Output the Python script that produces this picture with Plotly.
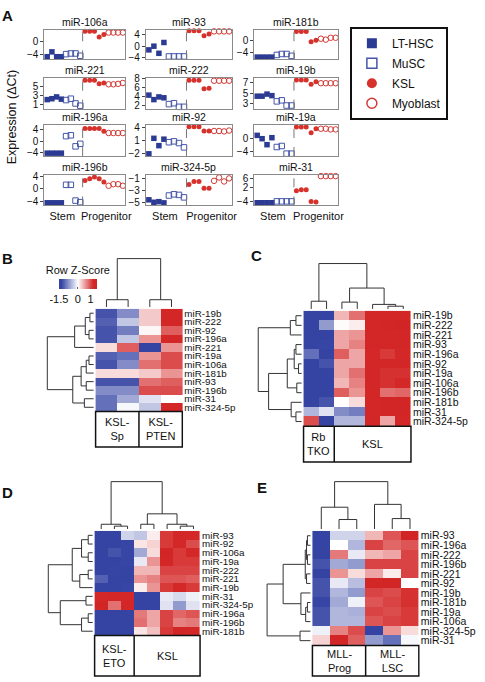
import plotly.graph_objects as go

W, H = 485, 682
FONT = "Liberation Sans, Arial, Helvetica, sans-serif"

# ---------------- Panel A data (expression, delta Ct) ----------------
mirs_A = ["miR-106a", "miR-93", "miR-181b",
          "miR-221", "miR-222", "miR-19b",
          "miR-196a", "miR-92", "miR-19a",
          "miR-196b", "miR-324-5p", "miR-31"]
group_names = ["LT-HSC", "MuSC", "KSL", "Myoblast"]

lt_hsc = [[-4.8, -3.3, -4.8, -4.8], [-1.3, 0.0, -2.5, 1.3], [-5.4, -5.4, -5.4, -5.4],
          [2.0, 2.2, 2.6, 2.1], [4.4, 3.4, 4.0, 3.8], [4.4, 4.4, 4.8, 4.5],
          [-4.2, -4.2, -4.2, -4.2], [-2.0, 1.6, -0.1, 1.4], [0.8, -0.2, -2.0, 0.1],
          [-4.4, -4.4, -4.4, -4.4], [-4.5, -4.9, -4.8, -5.0], [-4.6, -4.6, -4.6, -4.6]]
musc = [[-4.0, -3.8, -3.8, -4.5], [-3.6, -3.6, -3.6, -3.6], [-4.7, -4.4, -4.4, -5.0],
        [1.9, 2.2, 1.15, 0.65], [2.4, 2.6, 1.8, 1.8], [3.4, 3.6, 2.6, 2.6],
        [1.8, 2.1, -1.8, -0.9], [0.7, 0.9, 0.5, -0.5], [-2.7, -2.4, -4.7, -4.7],
        [1.3, 1.3, -3.7, -4.2], [-3.8, -3.6, -3.7, -4.1], [-4.0, -4.0, -4.0, -4.0]]
ksl = [[3.1, 3.1, 3.1, 1.3, 2.1], [5.4, 5.4, 5.4, 3.7, 4.3], [2.8, 2.8, 2.8, -0.5, 0.0],
       [6.3, 6.3, 6.3, 5.5, 5.7], [7.7, 7.7, 7.7, 5.8, 5.9], [7.5, 7.5, 7.5, 6.7, 7.2],
       [4.5, 4.5, 4.5, 4.5, 3.5], [4.3, 4.3, 4.3, 3.3, 3.3], [3.3, 3.3, 3.3, 1.6, 2.8],
       [2.7, 3.2, 3.8, 3.2, 2.2], [-2.0, -1.5, -1.5, -2.6, -2.6], [0.6, 1.0, 1.0, -4.0, -4.3]]
myoblast = [[2.7, 2.7, 2.7, 2.7], [5.2, 5.2, 5.2, 5.2], [0.5, 0.2, 0.8, 0.8],
            [5.4, 5.4, 5.5, 5.7], [7.6, 7.6, 7.6, 7.6], [6.9, 6.9, 6.9, 6.9],
            [2.9, 2.9, 2.9, 2.9], [3.3, 3.3, 3.2, 3.4], [2.8, 2.8, 2.6, 2.6],
            [1.0, 1.5, 1.5, 1.0], [-1.4, -0.85, -1.5, -1.0], [6.9, 6.9, 6.9, 6.9]]
ytick_vals = [[-4, 0], [-4, 0, 4], [-4, 0], [1, 3, 5], [2, 4, 6, 8], [3, 5, 7],
              [-4, 0, 4], [-2, 1, 4], [-4, 0], [-4, 0, 4], [-5, -3, -1], [-4, 2, 6]]
section_labels = ["Stem", "Progenitor"]

# ---------------- Heatmap data (row Z-scores) ----------------
rows_B = ["miR-19b", "miR-222", "miR-92", "miR-196a", "miR-221", "miR-19a",
          "miR-106a", "miR-181b", "miR-93", "miR-196b", "miR-31", "miR-324-5p"]
groups_B = ["KSL-<br>Sp", "KSL-<br>PTEN"]
sizes_B = [2, 2]
z_B = [[-1.2, -0.8, 0.3, 1.3], [-1.1, -0.4, 0.3, 1.3], [-1.2, -0.9, 0.05, 0.9],
       [-1.2, -0.4, 0.6, 1.2], [0.2, 0.9, -1.4, 0.6], [-1.1, -1.0, 0.6, 1.0],
       [-1.2, -0.8, 0.8, 1.0], [0.2, 0.2, 0.3, 0.6], [-1.2, -1.2, 0.8, 0.9],
       [-0.8, -0.8, 1.0, 1.0], [-1.0, -0.6, -0.2, 0.0], [-1.0, -0.05, -0.4, 1.3]]
rowtree_B = ((((0, 1, 0.08), (2, 3, 0.10), 0.18), 4, 0.41),
             (((((5, 6, 0.10), 7, 0.16), (8, 9, 0.16), 0.27)), (10, 11, 0.20), 0.45), 1.0)
coltree_B = ((0, 1, 0.15), (2, 3, 0.15), 1.0)

rows_C = ["miR-19b", "miR-222", "miR-221", "miR-93", "miR-196a", "miR-92",
          "miR-19a", "miR-106a", "miR-196b", "miR-181b", "miR-31", "miR-324-5p"]
groups_C = ["Rb<br>TKO", "KSL"]
sizes_C = [2, 5]
z_C = [[-1.4, -1.4, 0.4, 0.8, 1.3, 1.3, 1.3], [-1.4, -0.7, 0.02, 0.1, 1.3, 1.35, 1.4],
       [-1.4, -1.4, 0.5, 0.6, 1.3, 1.3, 1.3], [-1.4, -1.3, 0.5, 0.7, 1.25, 1.25, 1.25],
       [-1.0, -1.4, 0.9, 0.5, 1.2, 1.1, 1.2], [-1.4, -1.2, 0.5, 0.5, 1.25, 1.3, 1.25],
       [-1.4, -1.4, 0.5, 0.8, 1.25, 1.15, 1.15], [-1.4, -1.4, 0.4, 0.7, 1.25, 1.15, 1.2],
       [-1.4, -1.4, 0.9, 0.6, 1.3, 0.8, 0.85], [-1.4, -1.2, 0.0, 0.2, 1.3, 1.35, 1.35],
       [-0.5, -0.2, -0.8, -0.9, 1.3, 1.35, 1.35], [1.0, -1.4, -0.5, -0.5, 1.3, 0.5, 1.3]]
rowtree_C = (((0, 1, 0.13), 2, 0.26),
             (((((3, 4, 0.13), (5, 6, 0.07), 0.17), (7, 8, 0.11), 0.33)),
              (9, (10, 11, 0.13), 0.24), 0.76), 1.0)
coltree_C = ((0, 1, 0.17), ((2, 3, 0.15), (4, (5, 6, 0.06), 0.10), 0.46), 1.0)

rows_D = ["miR-93", "miR-92", "miR-106a", "miR-19a", "miR-222", "miR-221",
          "miR-19b", "miR-31", "miR-324-5p", "miR-196a", "miR-196b", "miR-181b"]
groups_D = ["KSL-<br>ETO", "KSL"]
sizes_D = [3, 5]
z_D = [[-1.4, -1.4, -0.3, -0.4, 0.1, 1.1, 1.25, 1.2], [-1.4, -1.4, -1.3, 0.15, 0.25, 1.1, 1.2, 1.0],
       [-1.4, -1.2, -1.3, -0.6, 0.2, 1.35, 1.1, 1.2], [-1.4, -1.4, -1.3, -0.15, 0.6, 1.25, 1.1, 1.1],
       [-1.4, -1.35, -1.4, 0.4, 0.4, 1.05, 1.05, 1.05], [-1.1, -1.4, -1.4, 0.6, 0.7, 0.95, 0.95, 0.9],
       [-1.4, -1.4, -1.3, 0.1, 0.6, 1.1, 1.2, 1.1], [1.2, 1.25, 1.2, -1.4, -1.4, -0.15, -0.25, -0.1],
       [1.35, 0.8, 1.3, -1.4, -1.4, -0.2, -0.7, -0.2], [-1.4, -1.4, -1.4, 0.75, 0.5, 1.05, 0.85, 0.95],
       [-1.4, -1.4, -1.4, 0.8, 0.5, 1.05, 0.7, 0.75], [-1.4, -1.4, -1.4, 0.15, 0.35, 1.1, 1.25, 1.2]]
rowtree_D = ((((0, 1, 0.10), (2, 3, 0.10), 0.25), ((4, 5, 0.10), 6, 0.29), 0.46),
             ((7, 8, 0.15), ((9, 10, 0.10), 11, 0.25), 0.73), 1.0)
coltree_D = ((0, (1, 2, 0.06), 0.10), ((3, 4, 0.10), (5, (6, 7, 0.06), 0.10), 0.32), 1.0)

rows_E = ["miR-93", "miR-196a", "miR-222", "miR-196b", "miR-221", "miR-92",
          "miR-19b", "miR-181b", "miR-19a", "miR-106a", "miR-324-5p", "miR-31"]
groups_E = ["MLL-<br>Prog", "MLL-<br>LSC"]
sizes_E = [3, 3]
z_E = [[-1.4, -0.3, -0.3, 0.4, 0.95, 1.4], [-1.4, 0.0, -0.5, 1.05, 0.85, 0.95],
       [-1.4, 0.75, -0.15, 0.4, 0.5, 1.05], [-1.2, -0.6, -0.7, 1.05, 1.05, 1.05],
       [-1.4, 0.6, 0.2, 0.5, 0.1, 1.05], [-1.2, -0.15, -0.45, 1.3, 1.35, 0.0],
       [-1.2, -0.5, -0.7, 1.05, 1.0, 1.15], [-1.3, -0.6, -0.1, 0.95, 1.05, 1.15],
       [-1.2, -0.5, -0.55, 1.05, 1.0, 1.1], [-1.2, -0.5, -0.5, 0.95, 1.05, 1.1],
       [-0.1, 0.7, 1.0, -1.4, 0.6, 0.2], [0.25, 1.35, 0.9, -0.7, -1.0, -0.05]]
rowtree_E = ((((((0, 1, 0.07), (2, 3, 0.07), 0.09), (4, 5, 0.09), 0.12)),
              (6, ((7, 8, 0.07), 9, 0.11), 0.22), 0.63), (10, 11, 0.24), 1.0)
coltree_E = ((0, (1, 2, 0.20), 0.46), (3, (4, 5, 0.22), 0.52), 1.0)

zscore_ticks = [-1.5, 0, 1]

# ---------------- styling ----------------
C_LT = "#2b3a92"
C_MU = "#4556a8"
C_KSL = "#d6312b"
C_MYO = "#d23a35"
COLORSCALE = [[0.0, "rgb(52,66,162)"], [0.07, "rgb(55,70,165)"], [0.5, "rgb(255,255,255)"],
              [0.9, "rgb(212,40,40)"], [1.0, "rgb(208,34,34)"]]


def px(x):
    return x / W


def py(y):
    return min(1.0, max(0.0, 1 - y / H))


def tree_lines(tree):
    pos, hts = [], []

    def rec(node):
        if isinstance(node, int):
            return float(node), 0.0
        a, b, h = node
        pa, ha = rec(a)
        pb, hb = rec(b)
        pos.extend([pa, pa, pb, pb, None])
        hts.extend([ha, h, h, hb, None])
        return (pa + pb) / 2.0, h

    rec(tree)
    return pos, hts


def ann(text, x, y, size, **kw):
    d = dict(text=text, x=x, y=y, xref="paper", yref="paper", showarrow=False,
             xanchor="center", yanchor="middle", font=dict(size=size, color="#111"))
    d.update(kw)
    return d


fig = go.Figure()
layout = {}
annotations = []
shapes = []

# ---------------- Panel A ----------------
colL = [45, 148, 258]
colR = [127, 235, 343]
rowT = [25, 74, 122, 172]
rowB = [55, 105, 153, 203]
y_ranges = [[-5.6, 3.6], [-4.6, 5.8], [-6.1, 3.4], [0.0, 6.8], [1.4, 8.2], [2.0, 7.9],
            [-5.2, 5.6], [-2.5, 4.6], [-5.4, 3.8], [-5.2, 4.5], [-5.4, -0.4], [-5.7, 7.5]]

for i, name in enumerate(mirs_A):
    r, c = divmod(i, 3)
    n = i + 1
    sx = "x" if n == 1 else f"x{n}"
    sy = "y" if n == 1 else f"y{n}"
    series = [lt_hsc[i], musc[i], ksl[i], myoblast[i]]
    styles = [dict(symbol="square", size=5.5, color=C_LT),
              dict(symbol="square-open", size=5.5, color=C_MU, line=dict(width=1, color=C_MU)),
              dict(symbol="circle", size=5, color=C_KSL),
              dict(symbol="circle-open", size=5.5, color=C_MYO, line=dict(width=1, color=C_MYO))]
    start = 0
    for k, vals in enumerate(series):
        xs = list(range(start, start + len(vals)))
        start += len(vals)
        fig.add_trace(go.Scatter(x=xs, y=vals, mode="markers", marker=styles[k],
                                 xaxis=sx, yaxis=sy, showlegend=False, hoverinfo="skip",
                                 cliponaxis=False))
    n_stem = len(lt_hsc[i]) + len(musc[i])
    n_all = start
    shapes.append(dict(type="line", xref=sx, yref=f"{sy} domain", x0=n_stem - 0.5, x1=n_stem - 0.5,
                       y0=0, y1=1, line=dict(color="#777", width=1, dash="dash")))
    xa = dict(domain=[px(colL[c]), px(colR[c])], anchor=sy, range=[-0.6, n_all - 0.5],
              showgrid=False, zeroline=False, showline=True, linecolor="#8a8a8a", linewidth=1,
              mirror=True, ticks="", showticklabels=False)
    if r == 3:
        xa.update(showticklabels=True, tickvals=[(n_stem - 1) / 2 - 0.3, (n_stem + n_all - 1) / 2 + 0.5],
                  ticktext=section_labels, tickfont=dict(size=11, color="#111"))
    ya = dict(domain=[py(rowB[r]), py(rowT[r])], anchor=sx, range=y_ranges[i],
              showgrid=False, zeroline=False, showline=True, linecolor="#8a8a8a", linewidth=1,
              mirror=True, ticks="outside", ticklen=3, tickcolor="#444", tickvals=ytick_vals[i],
              tickfont=dict(size=10, color="#111"))
    layout["xaxis" if n == 1 else f"xaxis{n}"] = xa
    layout["yaxis" if n == 1 else f"yaxis{n}"] = ya
    annotations.append(ann(name, px((colL[c] + colR[c]) / 2), py(rowT[r] - 8), 10.5))

# legend proxies
leg_styles = [dict(symbol="square", size=10, color=C_LT),
              dict(symbol="square-open", size=10, color=C_MU, line=dict(width=1.5, color=C_MU)),
              dict(symbol="circle", size=10, color=C_KSL),
              dict(symbol="circle-open", size=10, color=C_MYO, line=dict(width=1.5, color=C_MYO))]
for k, gname in enumerate(group_names):
    fig.add_trace(go.Scatter(x=[None], y=[None], mode="markers", marker=leg_styles[k],
                             name=gname, xaxis="x", yaxis="y", showlegend=True,
                             legendgroup=gname))

annotations.append(ann("Expression (\u0394Ct)", px(13), py(114), 12.5, textangle=-90))

# ---------------- Heatmap panels ----------------
geom = {
    "B": dict(L=97, R=185, T=308, B=412, left=48, top=257, box=448, fs=9.8),
    "C": dict(L=308, R=417, T=310, B=427, left=262, top=262, box=463, fs=10.5),
    "D": dict(L=96, R=203, T=533, B=639, left=49, top=483, box=680, fs=9.8),
    "E": dict(L=317, R=425, T=533, B=649, left=271, top=483, box=680, fs=10.5),
}
hm = {
    "B": (z_B, rows_B, groups_B, sizes_B, rowtree_B, coltree_B),
    "C": (z_C, rows_C, groups_C, sizes_C, rowtree_C, coltree_C),
    "D": (z_D, rows_D, groups_D, sizes_D, rowtree_D, coltree_D),
    "E": (z_E, rows_E, groups_E, sizes_E, rowtree_E, coltree_E),
}
for j, key in enumerate(["B", "C", "D", "E"]):
    n = 13 + j
    sx, sy = f"x{n}", f"y{n}"
    g = geom[key]
    z, rlabels, gnames, gsizes, rtree, ctree = hm[key]
    nr, nc = len(z), len(z[0])
    cw = (g["R"] - g["L"]) / nc
    rh = (g["B"] - g["T"]) / nr
    dl, dr, dt, db = g["left"] - 3, g["R"] + 1, g["top"] - 3, min(g["box"] + 2, H)
    xr = [-0.5 - (g["L"] - dl) / cw, nc - 0.5 + (dr - g["R"]) / cw]
    yr = [nr - 0.5 + (db - g["B"]) / rh, -0.5 - (g["T"] - dt) / rh]
    hmkw = dict(showscale=False)
    if key == "B":
        hmkw = dict(showscale=True, colorbar=dict(
            orientation="h", x=px(79), xanchor="center", y=py(265), yanchor="top",
            lenmode="pixels", len=38, thicknessmode="pixels", thickness=10, outlinewidth=0,
            tickvals=zscore_ticks, ticktext=["-1.5", "0", "1"], ticks="inside", ticklen=2,
            tickcolor="#666", tickfont=dict(size=11, color="#111"), xpad=0, ypad=0,
            title=dict(text="Row Z-Score", side="top", font=dict(size=11, color="#111"))))
    fig.add_trace(go.Heatmap(z=z, x=list(range(nc)), y=list(range(nr)), colorscale=COLORSCALE,
                             zmin=-1.5, zmax=1.5, xaxis=sx, yaxis=sy, hoverinfo="skip", **hmkw))
    gap = 2
    # row dendrogram
    pos, hts = tree_lines(rtree)
    ext = g["L"] - g["left"] - gap
    xs = [None if h is None else -0.5 - (gap + h * ext) / cw for h in hts]
    fig.add_trace(go.Scatter(x=xs, y=pos, mode="lines", line=dict(color="#333", width=1),
                             xaxis=sx, yaxis=sy, showlegend=False, hoverinfo="skip"))
    # column dendrogram
    pos, hts = tree_lines(ctree)
    ext = g["T"] - g["top"] - gap
    ys = [None if h is None else -0.5 - (gap + h * ext) / rh for h in hts]
    fig.add_trace(go.Scatter(x=pos, y=ys, mode="lines", line=dict(color="#333", width=1),
                             xaxis=sx, yaxis=sy, showlegend=False, hoverinfo="skip"))
    # group label box
    y0 = nr - 0.5
    y1 = nr - 0.5 + (g["box"] - g["B"]) / rh
    shapes.append(dict(type="rect", xref=sx, yref=sy, x0=-0.5, x1=nc - 0.5, y0=y0, y1=y1,
                       line=dict(color="#111", width=1.5)))
    cum = 0
    for gi, (gn, gs) in enumerate(zip(gnames, gsizes)):
        if gi > 0:
            shapes.append(dict(type="line", xref=sx, yref=sy, x0=cum - 0.5, x1=cum - 0.5,
                               y0=y0, y1=y1, line=dict(color="#111", width=1.5)))
        annotations.append(dict(text=gn, x=cum + (gs - 1) / 2, y=(y0 + y1) / 2, xref=sx, yref=sy,
                                showarrow=False, xanchor="center", yanchor="middle",
                                font=dict(size=11, color="#111")))
        cum += gs
    layout[f"xaxis{n}"] = dict(domain=[px(dl), px(dr)], anchor=sy, range=xr, visible=False,
                               showgrid=False, zeroline=False)
    layout[f"yaxis{n}"] = dict(domain=[py(db), py(dt)], anchor=sx, range=yr, side="right",
                               showgrid=False, zeroline=False, showline=False, ticks="",
                               tickvals=list(range(nr)), ticktext=rlabels,
                               tickfont=dict(size=g["fs"], color="#111"))

# panel letters
for letter, (lx, ly) in {"A": (8, 11), "B": (8, 257), "C": (260, 254), "D": (8, 494), "E": (266, 489)}.items():
    annotations.append(ann(f"<b>{letter}</b>", px(lx), py(ly), 15))

fig.update_layout(
    width=W, height=H, margin=dict(l=0, r=0, t=0, b=0),
    paper_bgcolor="white", plot_bgcolor="rgba(0,0,0,0)",
    font=dict(family=FONT, color="#111"),
    showlegend=True,
    legend=dict(x=px(355), y=py(22), xanchor="left", yanchor="top", bordercolor="#111",
                borderwidth=2, bgcolor="white", font=dict(size=12, color="#111"),
                tracegroupgap=1, itemwidth=30),
    annotations=annotations, shapes=shapes,
    **layout,
)
fig.write_html("out.html", config={"displayModeBar": False},
               post_script="document.body.style.margin='0px';")
